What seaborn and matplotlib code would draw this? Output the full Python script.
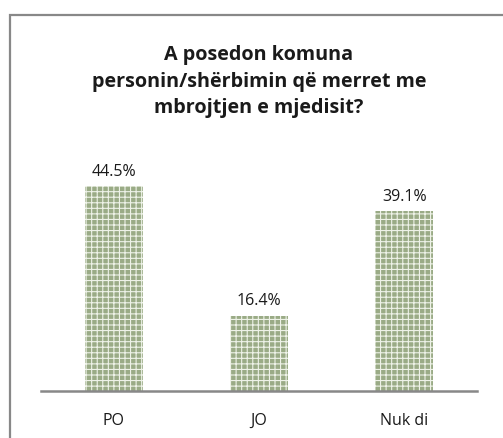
import matplotlib
matplotlib.use("Agg")
import matplotlib.pyplot as plt
import matplotlib.patches as mpatches
import seaborn as sns
import pandas as pd

categories = ["PO", "JO", "Nuk di"]
values = [44.5, 16.4, 39.1]
title = "A posedon komuna\npersonin/shërbimin që merret me\nmbrojtjen e mjedisit?"

sns.set_style("white")
plt.rcParams["font.family"] = ["Open Sans", "DejaVu Sans"]
plt.rcParams["hatch.linewidth"] = 0.8

df = pd.DataFrame({"cat": categories, "val": values})

fig = plt.figure(figsize=(5.03, 4.39), dpi=100)
ax = fig.add_axes([41 / 503, 47 / 439, 436 / 503, 232 / 439])

sns.barplot(data=df, x="cat", y="val", color="#9aab86", saturation=1,
            width=0.4, ax=ax)
for p in ax.patches:
    p.set_edgecolor("#eef2e8")
    p.set_linewidth(0)
    p.set_hatch("+++")

for p, v in zip(ax.patches, values):
    ax.text(p.get_x() + p.get_width() / 2, v + 1.6, f"{v}%",
            ha="center", va="bottom", fontsize=11.5, color="#1a1a1a")

ax.set_ylim(0, 50.4)
ax.set_xlim(-0.5, 2.5)
ax.set_xlabel("")
ax.set_ylabel("")
ax.set_yticks([])
ax.tick_params(axis="x", length=0, labelsize=11.5, pad=15, colors="#1a1a1a")
for s in ["top", "right", "left"]:
    ax.spines[s].set_visible(False)
ax.spines["bottom"].set_color("#888888")
ax.spines["bottom"].set_linewidth(1.8)

fig.text(259 / 503, 1 - 45 / 439, title, ha="center", va="top",
         fontsize=14.2, fontweight="bold", color="#1a1a1a", linespacing=1.45)

frame = mpatches.Rectangle((10 / 503, -0.2), 1.2, 1 - 16 / 439 + 0.2,
                           transform=fig.transFigure, fill=False,
                           edgecolor="#888888", linewidth=1.6)
fig.add_artist(frame)

fig.savefig("out.png", dpi=100)
